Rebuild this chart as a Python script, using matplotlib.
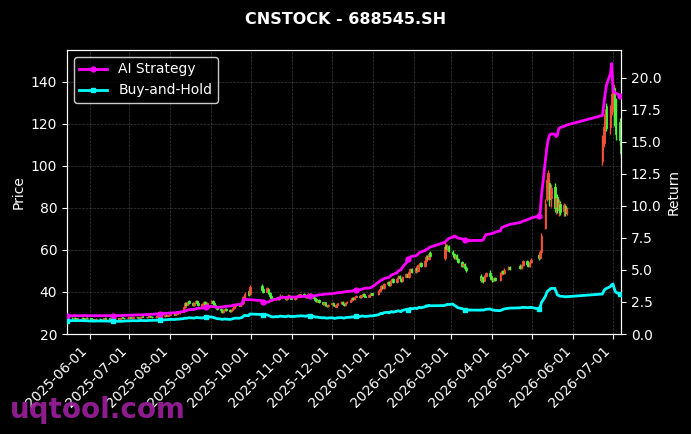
import matplotlib
matplotlib.use('Agg')
import matplotlib.pyplot as plt
import matplotlib.dates as mdates
import numpy as np
import pandas as pd

title = "CNSTOCK - 688545.SH"
legend_labels = ["AI Strategy", "Buy-and-Hold"]
watermark = "uqtool.com"

# trading calendar: segments of available data and exchange holidays
segments = [("2025-05-15", "2025-09-30"), ("2025-10-09", "2026-02-13"),
            ("2026-02-24", "2026-03-12"), ("2026-03-23", "2026-04-14"),
            ("2026-04-22", "2026-05-27"), ("2026-06-23", "2026-07-07")]
holidays = ["2026-01-01", "2026-01-02", "2026-04-06",
            "2026-05-01", "2026-05-04", "2026-05-05"]

open_ = [
    27.0, 27.3, 27.7, 27.4, 27.8, 27.5, 27.1, 27.4, 27.8, 27.5, 27.3, 27.6,
    27.4, 27.2, 27.1, 26.8, 27.0, 27.3, 27.1, 26.9, 27.2, 27.6, 27.4, 27.1, 26.9, 27.1, 27.4, 27.6, 27.2, 27.5, 27.9, 27.6, 27.4,
    27.7, 27.9, 27.5, 27.8, 28.1, 27.9, 27.7, 28.0, 28.4, 28.1, 27.9, 28.2, 28.5, 28.2, 28.0, 28.3, 28.7, 28.4, 28.2, 28.5, 28.9, 28.6, 28.9,
    29.2, 29.5, 29.2, 29.7, 30.2, 29.8, 30.6, 32.7, 34.9, 33.8, 35.5, 34.7, 33.7, 34.8, 35.8, 34.6, 33.5, 34.3, 35.3, 34.2, 33.4,
    34.9, 35.7, 34.8, 33.9, 32.7, 31.9, 31.3, 30.5, 31.3, 32.1, 31.4, 30.7, 31.5, 32.3, 33.1, 34.0, 33.3, 34.2, 34.9, 37.5, 40.6, 38.9,
    42.8, 41.2, 40.2, 41.6, 39.6, 38.0, 37.0, 36.4, 37.4, 36.5, 37.6, 38.2, 37.3, 36.6, 37.7, 38.3, 37.4,
    36.7, 37.1, 37.9, 38.6, 37.8, 38.9, 38.1, 37.4, 38.5, 39.1, 38.0, 37.1, 36.4, 35.4, 36.2, 35.1, 34.1, 35.0, 33.7, 33.1,
    34.1, 34.7, 33.6, 33.0, 33.8, 34.6, 35.3, 34.3, 33.7, 34.8, 35.3, 36.1, 37.1, 36.4, 37.7, 38.3, 37.4, 38.5, 39.1, 38.2, 37.7, 38.7, 39.4,
    38.9, 40.3, 41.4, 42.9, 41.8, 43.7, 44.6, 43.1, 45.2, 46.1, 44.7, 46.4, 47.6, 46.3, 45.1, 47.3, 48.6, 47.2, 49.5, 50.9,
    49.5, 51.6, 50.1, 52.9, 53.7, 52.3, 54.6, 56.9, 55.5, 58.3,
    56.0, 61.8, 60.0, 61.9, 59.2, 58.1, 56.2, 57.4, 55.5, 54.0, 52.6, 53.2, 51.5,
    47.8, 45.5, 46.9, 45.3, 47.5, 49.0, 47.5, 46.3, 45.6, 46.4, 45.8, 48.7, 49.9, 49.0, 50.7, 51.9,
    52.5, 51.5, 52.9, 54.7, 53.4, 52.3, 54.1, 57.6, 56.2, 59.0, 70.5, 84.0, 91.5, 92.0, 84.5, 90.0, 80.5, 85.0, 79.5, 82.0, 78.5, 81.0, 77.8,
    102.0, 111.0, 119.0, 128.5, 118.5, 126.0, 133.0, 137.0, 131.0, 121.0, 116.0,
]
high = [
    27.6, 27.9, 28.0, 28.1, 28.0, 27.8, 27.7, 28.0, 28.1, 27.8, 27.9, 27.9,
    27.7, 27.4, 27.3, 27.3, 27.6, 27.5, 27.3, 27.5, 27.8, 27.9, 27.6, 27.3, 27.4, 27.7, 27.9, 27.8, 27.7, 28.1, 28.1, 27.8, 28.0,
    28.2, 28.1, 28.0, 28.4, 28.3, 28.1, 28.2, 28.6, 28.6, 28.3, 28.4, 28.7, 28.7, 28.4, 28.5, 28.9, 28.9, 28.6, 28.7, 29.1, 29.1, 29.1, 29.6,
    29.7, 29.8, 29.9, 30.4, 30.5, 30.8, 33.0, 35.3, 35.4, 35.9, 36.2, 35.0, 35.2, 36.1, 36.3, 34.9, 34.8, 35.6, 35.6, 34.5, 35.2,
    36.1, 36.0, 35.1, 34.2, 33.0, 32.2, 31.6, 31.7, 32.4, 32.4, 31.7, 31.9, 32.7, 33.5, 34.3, 34.3, 34.6, 35.2, 38.0, 40.2, 41.0, 43.5,
    43.6, 41.8, 42.4, 42.0, 40.1, 38.5, 37.4, 37.7, 37.8, 37.9, 38.8, 38.6, 37.6, 38.0, 38.9, 38.6, 37.7,
    37.4, 38.1, 38.9, 38.9, 39.2, 39.3, 38.4, 38.8, 39.5, 39.4, 38.3, 37.4, 36.7, 36.5, 36.5, 35.4, 35.3, 35.3, 34.0, 34.4,
    34.9, 35.0, 33.9, 34.2, 34.8, 35.6, 35.6, 34.6, 35.0, 35.7, 36.6, 37.4, 37.4, 37.9, 38.6, 38.6, 38.7, 39.4, 39.5, 38.5, 38.9, 39.7, 39.7,
    40.8, 42.1, 43.5, 43.4, 44.2, 45.3, 45.0, 45.6, 46.7, 46.4, 46.9, 48.2, 48.0, 46.8, 47.8, 49.2, 49.1, 50.0, 51.6, 51.4,
    52.2, 52.0, 53.5, 54.4, 54.0, 55.2, 57.6, 57.5, 59.0, 59.6,
    63.8, 62.6, 62.8, 62.4, 59.8, 58.6, 58.0, 57.8, 56.0, 54.6, 54.1, 53.7, 52.2,
    48.4, 47.6, 47.3, 48.0, 49.6, 50.3, 48.0, 46.8, 47.2, 46.9, 49.4, 50.6, 50.5, 51.4, 52.4, 52.3,
    53.2, 53.5, 55.3, 55.4, 54.0, 54.8, 55.9, 58.4, 59.8, 68.0, 84.2, 95.0, 98.0, 93.0, 91.5, 92.0, 86.0, 86.5, 84.0, 83.0, 82.5, 82.0, 80.5,
    114.5, 121.0, 127.0, 130.0, 129.0, 136.0, 140.0, 138.5, 132.0, 122.5, 118.0,
]
low = [
    26.8, 27.1, 27.2, 27.2, 27.3, 27.0, 26.9, 27.2, 27.3, 27.1, 27.1, 27.2,
    27.0, 26.8, 26.6, 26.6, 26.8, 26.8, 26.7, 26.7, 27.0, 27.1, 26.9, 26.7, 26.7, 26.9, 27.2, 27.1, 27.0, 27.3, 27.4, 27.2, 27.2,
    27.5, 27.4, 27.3, 27.6, 27.7, 27.5, 27.5, 27.8, 27.9, 27.7, 27.7, 28.0, 28.0, 27.8, 27.8, 28.1, 28.2, 28.0, 28.0, 28.3, 28.4, 28.4, 28.7,
    28.9, 29.0, 29.0, 29.5, 29.6, 29.6, 30.4, 32.5, 33.5, 33.6, 34.3, 33.4, 33.5, 34.6, 34.2, 33.2, 33.2, 34.0, 33.9, 33.1, 33.2,
    34.6, 34.4, 33.5, 32.3, 31.5, 30.9, 30.2, 30.2, 31.0, 31.0, 30.4, 30.5, 31.3, 32.1, 32.9, 33.1, 33.1, 33.9, 34.6, 37.2, 38.0, 38.6,
    40.5, 39.6, 39.8, 39.1, 37.8, 36.8, 35.8, 36.1, 36.3, 36.2, 37.3, 37.1, 36.1, 36.3, 37.4, 37.2, 36.4,
    36.3, 36.8, 37.6, 37.6, 37.5, 37.9, 37.2, 37.1, 38.2, 37.8, 36.9, 36.0, 35.2, 35.1, 34.7, 33.9, 33.8, 33.5, 32.9, 32.8,
    33.8, 33.4, 32.8, 32.7, 33.5, 34.3, 34.1, 33.5, 33.4, 34.5, 35.0, 35.8, 36.2, 36.1, 37.4, 37.2, 37.1, 38.2, 38.0, 37.5, 37.4, 38.4, 38.4,
    38.5, 39.8, 41.0, 41.4, 41.5, 43.3, 42.8, 42.7, 44.8, 44.4, 44.3, 46.0, 46.0, 44.7, 44.8, 46.9, 46.9, 46.8, 49.1, 49.1,
    49.1, 49.7, 49.8, 52.4, 51.9, 52.0, 54.2, 55.1, 55.2, 56.5,
    55.4, 59.3, 59.6, 58.8, 57.2, 55.8, 55.5, 54.9, 53.6, 51.8, 52.0, 50.8, 49.6,
    44.8, 44.6, 44.4, 45.0, 47.0, 47.2, 45.8, 44.9, 45.1, 45.2, 45.4, 48.2, 48.6, 48.7, 50.2, 50.3,
    51.0, 51.1, 52.4, 53.0, 51.8, 51.9, 53.6, 55.2, 55.8, 58.5, 70.0, 83.0, 89.5, 81.0, 80.5, 78.0, 77.0, 77.5, 76.0, 76.5, 76.0, 76.0, 76.5,
    100.5, 109.0, 116.0, 116.5, 115.0, 124.0, 130.0, 119.0, 112.0, 110.0, 104.0,
]
close = [
    27.3, 27.6, 27.4, 27.8, 27.5, 27.2, 27.4, 27.7, 27.5, 27.3, 27.6, 27.4,
    27.2, 27.0, 26.8, 27.1, 27.3, 27.0, 26.9, 27.2, 27.5, 27.3, 27.1, 26.9, 27.2, 27.4, 27.6, 27.3, 27.5, 27.8, 27.6, 27.4, 27.7,
    27.9, 27.6, 27.8, 28.1, 27.9, 27.7, 28.0, 28.3, 28.1, 27.9, 28.2, 28.4, 28.2, 28.0, 28.3, 28.6, 28.4, 28.2, 28.5, 28.8, 28.6, 28.9, 29.2,
    29.4, 29.2, 29.7, 30.1, 29.8, 30.5, 32.6, 34.8, 33.9, 35.4, 34.6, 33.8, 34.9, 35.7, 34.5, 33.6, 34.4, 35.2, 34.1, 33.5, 34.8,
    35.6, 34.7, 33.8, 32.6, 31.8, 31.2, 30.6, 31.4, 32.0, 31.3, 30.8, 31.6, 32.4, 33.2, 33.9, 33.4, 34.3, 34.8, 37.6, 39.2, 38.4, 42.5,
    41.0, 40.0, 41.8, 39.5, 38.2, 37.1, 36.2, 37.3, 36.6, 37.5, 38.3, 37.4, 36.5, 37.6, 38.4, 37.5, 36.8,
    37.0, 37.8, 38.5, 37.9, 38.8, 38.2, 37.5, 38.4, 39.0, 38.1, 37.2, 36.3, 35.5, 36.1, 35.0, 34.2, 34.9, 33.8, 33.2, 34.0,
    34.6, 33.7, 33.1, 33.9, 34.5, 35.2, 34.4, 33.8, 34.7, 35.4, 36.2, 37.0, 36.5, 37.6, 38.2, 37.5, 38.4, 39.0, 38.3, 37.8, 38.6, 39.3, 38.7,
    40.2, 41.5, 42.8, 41.9, 43.6, 44.5, 43.2, 45.1, 46.0, 44.8, 46.3, 47.5, 46.4, 45.2, 47.2, 48.5, 47.3, 49.4, 50.8, 49.6,
    51.5, 50.2, 52.8, 53.6, 52.4, 54.5, 56.8, 55.6, 58.2, 57.0,
    61.5, 60.2, 61.8, 59.4, 58.0, 56.4, 57.3, 55.6, 54.2, 52.5, 53.4, 51.6, 50.4,
    45.6, 46.8, 45.2, 47.4, 48.9, 47.6, 46.2, 45.4, 46.5, 45.8, 48.6, 49.8, 49.1, 50.6, 51.8, 50.9,
    51.6, 52.8, 54.6, 53.5, 52.4, 54.0, 55.2, 56.0, 58.8, 66.5, 82.0, 93.0, 96.5, 84.0, 89.5, 80.0, 84.5, 79.0, 82.5, 78.0, 81.5, 77.5, 79.5,
    112.0, 118.5, 124.5, 118.0, 126.0, 134.0, 138.5, 122.0, 115.0, 112.0, 106.0,
]
ai_strategy = [
    1.43, 1.43, 1.42, 1.43, 1.43, 1.43, 1.42, 1.43, 1.43, 1.43, 1.44, 1.43,
    1.43, 1.43, 1.42, 1.42, 1.43, 1.43, 1.42, 1.42, 1.43, 1.43, 1.43, 1.42, 1.43, 1.43, 1.44, 1.44, 1.43, 1.44, 1.45, 1.45, 1.46,
    1.46, 1.47, 1.47, 1.48, 1.48, 1.49, 1.49, 1.50, 1.50, 1.51, 1.52, 1.52, 1.53, 1.54, 1.55, 1.56, 1.57, 1.58, 1.59, 1.60, 1.61, 1.62, 1.63,
    1.64, 1.65, 1.66, 1.68, 1.69, 1.71, 1.75, 1.80, 1.82, 1.86, 1.90, 1.91, 1.93, 1.96, 1.99, 2.00, 2.02, 2.05, 2.08, 2.10, 2.13,
    2.15, 2.14, 2.12, 2.10, 2.08, 2.09, 2.10, 2.12, 2.15, 2.17, 2.18, 2.20, 2.22, 2.25, 2.28, 2.30, 2.32, 2.36, 2.68, 2.70, 2.66, 2.68,
    2.60, 2.47, 2.48, 2.50, 2.55, 2.60, 2.66, 2.72, 2.74, 2.78, 2.84, 2.86, 2.85, 2.87, 2.88, 2.87, 2.88,
    2.88, 2.89, 2.90, 2.91, 2.92, 2.93, 2.94, 2.95, 2.96, 2.96, 2.97, 2.98, 3.00, 3.02, 3.05, 3.08, 3.10, 3.12, 3.12, 3.13,
    3.14, 3.16, 3.18, 3.20, 3.22, 3.24, 3.26, 3.28, 3.30, 3.32, 3.34, 3.36, 3.38, 3.40, 3.42, 3.45, 3.48, 3.52, 3.55, 3.57, 3.59, 3.62, 3.65,
    4.05, 4.12, 4.20, 4.24, 4.32, 4.40, 4.42, 4.52, 4.62, 4.65, 4.78, 4.92, 4.98, 5.00, 5.20, 5.55, 5.85, 5.90, 6.00, 6.05,
    6.10, 6.15, 6.25, 6.35, 6.40, 6.50, 6.60, 6.62, 6.72, 6.78,
    7.15, 7.25, 7.35, 7.45, 7.55, 7.65, 7.62, 7.55, 7.48, 7.42, 7.38, 7.30, 7.29,
    7.30, 7.31, 7.33, 7.55, 7.75, 7.80, 7.82, 7.85, 7.88, 7.95, 8.05, 8.30, 8.35, 8.40, 8.50, 8.55,
    8.70, 8.75, 8.80, 8.90, 8.95, 8.98, 9.05, 9.20, 9.50, 10.80, 13.60, 14.50, 15.10, 15.50, 15.60, 15.60, 15.40, 15.50, 16.00, 16.10, 16.20, 16.25, 16.30,
    17.05, 17.90, 18.70, 19.40, 20.30, 21.10, 18.90, 18.90, 18.80, 18.60, 18.50,
]
buy_hold = [
    1.04, 1.05, 1.04, 1.05, 1.04, 1.03, 1.04, 1.05, 1.04, 1.03, 1.04, 1.03,
    1.02, 1.01, 1.00, 1.01, 1.02, 1.01, 1.00, 1.01, 1.02, 1.01, 1.00, 0.99, 1.00, 1.01, 1.00, 0.99, 0.98, 0.99, 1.00, 1.01, 1.02,
    1.03, 1.02, 1.03, 1.04, 1.03, 1.04, 1.05, 1.06, 1.05, 1.04, 1.05, 1.06, 1.07, 1.06, 1.07, 1.08, 1.09, 1.08, 1.09, 1.10, 1.11, 1.12, 1.13,
    1.14, 1.13, 1.15, 1.16, 1.15, 1.17, 1.20, 1.24, 1.22, 1.25, 1.27, 1.25, 1.24, 1.27, 1.29, 1.27, 1.25, 1.28, 1.31, 1.29, 1.32,
    1.33, 1.30, 1.27, 1.24, 1.20, 1.17, 1.14, 1.16, 1.18, 1.16, 1.14, 1.16, 1.19, 1.22, 1.24, 1.23, 1.26, 1.28, 1.38, 1.45, 1.42, 1.56,
    1.52, 1.48, 1.50, 1.45, 1.40, 1.36, 1.33, 1.36, 1.34, 1.37, 1.40, 1.38, 1.35, 1.38, 1.41, 1.38, 1.36,
    1.37, 1.39, 1.41, 1.39, 1.42, 1.40, 1.38, 1.41, 1.43, 1.40, 1.37, 1.34, 1.31, 1.33, 1.29, 1.26, 1.28, 1.25, 1.23, 1.25,
    1.27, 1.24, 1.22, 1.24, 1.26, 1.28, 1.26, 1.24, 1.27, 1.29, 1.31, 1.34, 1.32, 1.36, 1.38, 1.36, 1.39, 1.41, 1.39, 1.37, 1.40, 1.42, 1.41,
    1.50, 1.56, 1.62, 1.58, 1.66, 1.70, 1.64, 1.72, 1.75, 1.70, 1.78, 1.82, 1.78, 1.74, 1.84, 1.92, 1.88, 1.95, 2.00, 1.96,
    2.02, 1.98, 2.05, 2.08, 2.04, 2.12, 2.20, 2.16, 2.24, 2.20,
    2.22, 2.28, 2.31, 2.30, 2.34, 2.25, 2.20, 2.12, 2.05, 1.98, 1.94, 1.90, 1.87,
    1.86, 1.88, 1.86, 1.89, 1.93, 1.95, 1.92, 1.88, 1.86, 1.84, 1.82, 1.88, 1.92, 1.96, 2.00, 2.02,
    2.04, 2.06, 2.08, 2.06, 2.05, 2.07, 2.08, 1.95, 2.10, 2.45, 2.95, 3.25, 3.38, 3.45, 3.55, 3.57, 3.30, 3.05, 3.00, 2.95, 2.92, 2.90, 2.91,
    3.12, 3.35, 3.50, 3.55, 3.70, 3.85, 3.90, 3.50, 3.26, 3.12, 3.05,
]

# ---- build dates ----
dates = pd.DatetimeIndex(np.concatenate(
    [pd.bdate_range(s, e, freq='C', holidays=holidays).values for s, e in segments]))
n = len(dates)
for nm, arr in [("open", open_), ("high", high), ("low", low), ("close", close),
                ("ai", ai_strategy), ("bh", buy_hold)]:
    assert len(arr) == n, (nm, len(arr), n)

o = np.array(open_); h = np.array(high); l = np.array(low); c = np.array(close)
up_color = '#f25236'
down_color = '#4df23a'
colors = np.where(c >= o, up_color, down_color)

fig = plt.figure(figsize=(6.91, 4.34), dpi=100, facecolor='black')
ax = fig.add_axes([67 / 691, 100 / 434, (621 - 67) / 691, (334 - 50) / 434])
ax.set_facecolor('black')

ax.vlines(dates, l, h, colors=colors, linewidth=1.0, zorder=2)
ax.bar(dates, np.maximum(np.abs(c - o), 0.2), bottom=np.minimum(o, c), width=1.2,
       color=colors, edgecolor=colors, linewidth=0.6, zorder=3)

ax.set_xlim(dates[0], dates[-1])
ax.set_ylim(20, 155)
ax.xaxis.set_major_locator(mdates.MonthLocator())
ax.xaxis.set_major_formatter(mdates.DateFormatter('%Y-%m-%d'))
plt.setp(ax.get_xticklabels(), rotation=45, ha='right')
ax.grid(True, linestyle='--', color='gray', alpha=0.45, linewidth=0.5)
ax.set_ylabel('Price', color='white', fontsize=10)
ax.tick_params(colors='white', labelsize=10)
for sp in ax.spines.values():
    sp.set_color('white')

ax2 = ax.twinx()
ax2.plot(dates, ai_strategy, color='#ff00ff', linewidth=2, marker='o', markersize=3.5,
         markevery=25, label=legend_labels[0], zorder=5)
ax2.plot(dates, buy_hold, color='#00ffff', linewidth=2, marker='s', markersize=3.5,
         markevery=25, label=legend_labels[1], zorder=5)
ax2.set_ylim(0, max(ai_strategy) * 1.05)
ax2.set_ylabel('Return', color='white', fontsize=10)
ax2.tick_params(colors='white', labelsize=10)
for sp in ax2.spines.values():
    sp.set_color('white')

leg = ax2.legend(loc='upper left', facecolor='black', edgecolor='white', fontsize=10)
for t in leg.get_texts():
    t.set_color('white')

fig.suptitle(title, color='white', fontweight='bold', fontsize=11.5, y=0.972)
fig.text(0.014, 0.038, watermark, color='#a020a0', alpha=0.9, fontsize=20,
         fontweight='bold', va='baseline', ha='left')

fig.savefig('out.png', dpi=100, facecolor='black')
